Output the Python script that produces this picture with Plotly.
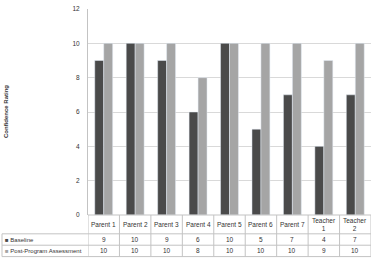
import plotly.graph_objects as go

categories = ["Parent 1", "Parent 2", "Parent 3", "Parent 4", "Parent 5",
              "Parent 6", "Parent 7", "Teacher<br>1", "Teacher<br>2"]
baseline = [9, 10, 9, 6, 10, 5, 7, 4, 7]
post = [10, 10, 10, 8, 10, 10, 10, 9, 10]
series_names = ["Baseline", "Post-Program Assessment"]
y_ticks = [0, 2, 4, 6, 8, 10, 12]

dark = "#4a4a4a"
light = "#a5a5a5"
line_c = "#c3c3c3"
font = "Liberation Sans"

W, H = 376, 260
L, R, T, B = 88, 5, 7, 45
pw, ph = W - L - R, H - T - B

def py(p):  # pixel y -> paper y
    return (H - B - p) / ph

def px(p):  # pixel x -> paper x
    return (p - L) / pw

n = len(categories)
xs = list(range(n))

fig = go.Figure()
fig.add_trace(go.Bar(x=xs, y=baseline, name=series_names[0], marker_color=dark))
fig.add_trace(go.Bar(x=xs, y=post, name=series_names[1], marker_color=light))

shapes = []
for yy, x0 in [(215, L), (234, 2), (245.5, 2), (257, 2)]:
    shapes.append(dict(type="line", xref="paper", yref="paper", x0=px(x0), x1=1,
                       y0=py(yy), y1=py(yy), line=dict(color=line_c, width=1)))
for i in range(n + 1):
    shapes.append(dict(type="line", xref="x", yref="paper", x0=i - 0.5, x1=i - 0.5,
                       y0=0, y1=py(257), line=dict(color=line_c, width=1)))
shapes.append(dict(type="line", xref="paper", yref="paper", x0=px(2), x1=px(2),
                   y0=py(234), y1=py(257), line=dict(color=line_c, width=1)))

ann = []
fs = 6.5
tc = "#333333"
for i, c in enumerate(categories):
    ann.append(dict(x=i, y=py(224.5), xref="x", yref="paper", text=c, showarrow=False,
                    font=dict(size=fs, color=tc, family=font), yanchor="middle"))
    ann.append(dict(x=i, y=py(239.75), xref="x", yref="paper", text=str(baseline[i]),
                    showarrow=False, font=dict(size=fs, color=tc, family=font),
                    yanchor="middle"))
    ann.append(dict(x=i, y=py(251.25), xref="x", yref="paper", text=str(post[i]),
                    showarrow=False, font=dict(size=fs, color=tc, family=font),
                    yanchor="middle"))
for name, col, yy in [(series_names[0], dark, 239.75), (series_names[1], light, 251.25)]:
    ann.append(dict(x=px(3), y=py(yy), xref="paper", yref="paper", xanchor="left",
                    yanchor="middle", showarrow=False,
                    text=f"<span style='color:{col}'>■</span> {name}",
                    font=dict(size=6, color=tc, family=font)))
ann.append(dict(x=px(6), y=0.5, xref="paper", yref="paper", text="<b>Confidence Rating</b>",
                textangle=-90, showarrow=False, xanchor="center", yanchor="middle",
                font=dict(size=6, color=tc, family=font)))

fig.update_layout(
    width=W, height=H, margin=dict(l=L, r=R, t=T, b=B),
    paper_bgcolor="white", plot_bgcolor="white",
    barmode="group", bargap=0.43, bargroupgap=0,
    showlegend=False,
    xaxis=dict(range=[-0.5, n - 0.5], showticklabels=False, showgrid=False,
               zeroline=False, showline=False, ticks=""),
    yaxis=dict(range=[0, 12], tickvals=y_ticks, showgrid=True, gridcolor="#d9d9d9",
               gridwidth=1, zeroline=False, showline=True, linecolor=line_c,
               ticks="", tickfont=dict(size=6.5, color=tc, family=font),
               ticklabelstandoff=6),
    shapes=shapes, annotations=ann,
)
fig.write_html("out.html")
